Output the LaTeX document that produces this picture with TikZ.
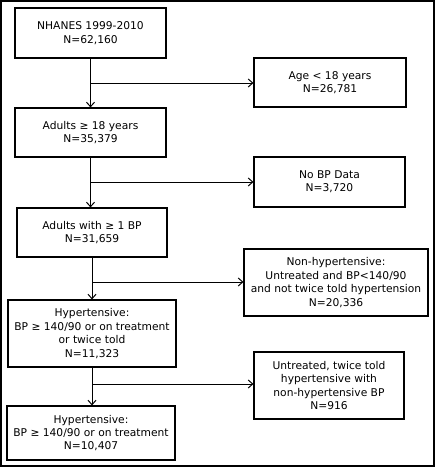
\documentclass[tikz,border=0pt]{standalone}
\usepackage{fontspec}
\setmainfont{DejaVu Sans}
\usetikzlibrary{arrows.meta}
\begin{document}
\begin{tikzpicture}[x=1pt,y=-1pt,
  box/.style={draw, line width=1.1pt, align=center, inner sep=0pt,
    font=\fontsize{10.7}{13.4}\selectfont},
  link/.style={line width=1pt, -{Straight Barb[length=4.5pt,width=8pt,line width=1pt]}},
  trunk/.style={line width=1pt}]
\useasboundingbox (0,0) rectangle (435,467);
\draw[line width=1.4pt] (1,1) rectangle (434,466);
\node[box, minimum width=151pt, minimum height=50pt] (b1) at (90.5,33) {NHANES 1999-2010\\N=62,160};
\node[box, minimum width=151pt, minimum height=49pt] (b2) at (90.5,132.5) {Adults ≥ 18 years\\N=35,379};
\node[box, minimum width=150pt, minimum height=49pt] (b3) at (92,232.5) {Adults with ≥ 1 BP\\N=31,659};
\node[box, minimum width=168pt, minimum height=67pt] (b4) at (92,333.5) {Hypertensive:\\BP ≥ 140/90 or on treatment\\or twice told\\N=11,323};
\node[box, minimum width=168pt, minimum height=54pt] (b5) at (91,433) {Hypertensive:\\BP ≥ 140/90 or on treatment\\N=10,407};
\node[box, minimum width=152pt, minimum height=49pt] (r1) at (330,82.5) {Age < 18 years\\N=26,781};
\node[box, minimum width=151pt, minimum height=50pt] (r2) at (329.5,182) {No BP Data\\N=3,720};
\node[box, minimum width=184pt, minimum height=67pt] (r3) at (336,282.5) {Non-hypertensive:\\Untreated and BP<140/90\\and not twice told hypertension\\N=20,336};
\node[box, minimum width=150pt, minimum height=67pt] (r4) at (329,385.5) {Untreated, twice told\\hypertensive with\\non-hypertensive BP\\N=916};
\coordinate (j1) at (90.5,83);
\coordinate (j2) at (90.5,182);
\coordinate (j3) at (92,282);
\coordinate (j4) at (92,384);
\draw[link] (b1.south) -- (b2.north);
\draw[link] (b2.south) -- (b2.south |- b3.north);
\draw[link] (b3.south) -- (b4.north);
\draw[link] (b4.south) -- (b4.south |- b5.north);
\draw[link] (j1) -- (j1 -| r1.west);
\draw[link] (j2) -- (j2 -| r2.west);
\draw[link] (j3) -- (j3 -| r3.west);
\draw[link] (j4) -- (j4 -| r4.west);
\end{tikzpicture}
\end{document}
